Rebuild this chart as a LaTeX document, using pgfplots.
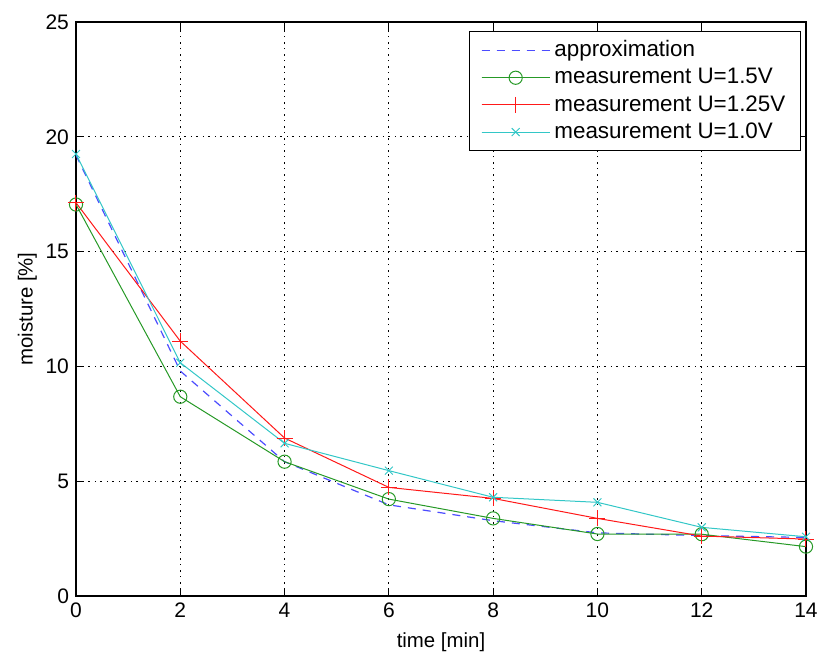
\documentclass[border=0pt]{standalone}
\usepackage{fontspec}
\setmainfont{Liberation Sans}
\usepackage{pgfplots}
\pgfplotsset{compat=1.18}
\definecolor{mgreen}{rgb}{0.15,0.6,0.15}
\definecolor{mred}{rgb}{1,0.1,0.1}
\definecolor{mcyan}{rgb}{0.2,0.78,0.78}
\definecolor{mblue}{rgb}{0.3,0.3,1}
\begin{document}
\begin{tikzpicture}
\begin{axis}[name=ax,
  scale only axis, width=365pt, height=287pt,
  xmin=0, xmax=14, ymin=0, ymax=25,
  xtick={0,2,...,14}, ytick={0,5,...,25},
  tick align=inside, tick pos=both,
  major tick length=4pt,
  /pgf/number format/assume math mode=true,
  ticklabel style={font=\fontsize{10.5}{12}\selectfont},
  label style={font=\fontsize{10.2}{12}\selectfont},
  xlabel={time [min]}, ylabel={moisture [\%]},
  xlabel style={yshift=-0.5pt}, ylabel style={yshift=-2.5pt},
  grid=major,
  major grid style={black, line width=0.5pt, dash pattern=on 1.2pt off 2.2pt on 0.4pt off 2.2pt},
  axis line style={black, line width=0.6pt},
  tick style={black, line width=0.5pt},
  legend style={at={(rel axis cs:0.993,0.984)}, anchor=north east,
    font=\fontsize{11.2}{13}\selectfont, draw=black, line width=0.5pt,
    row sep=0.3pt, inner ysep=2.5pt, inner xsep=5.5pt, cells={anchor=west}},
  legend image code/.code={\draw[#1] (0cm,0cm) -- (1.2cm,0cm); \draw[#1, mark repeat=2, mark phase=2] plot coordinates {(0cm,0cm) (0.6cm,0cm) (1.2cm,0cm)};},
]
\addplot[mblue, dashed, line width=0.6pt, dash pattern=on 4pt off 3.5pt] coordinates {
(0,19.2) (2,9.8) (4,5.85) (6,3.97) (8,3.28) (10,2.75) (12,2.63) (14,2.55)};
\addlegendentry{approximation}
\addplot[mgreen, line width=0.5pt, mark=o, mark size=3.3pt, mark options={solid}] coordinates {
(0,17.05) (2,8.68) (4,5.85) (6,4.22) (8,3.38) (10,2.70) (12,2.69) (14,2.15)};
\addlegendentry{measurement U=1.5V}
\addplot[mred, line width=0.5pt, mark=+, mark size=4pt, mark options={solid}] coordinates {
(0,17.13) (2,11.1) (4,6.88) (6,4.73) (8,4.25) (10,3.38) (12,2.61) (14,2.48)};
\addlegendentry{measurement U=1.25V}
\addplot[mcyan, line width=0.5pt, mark=x, mark size=2.8pt, mark options={solid}] coordinates {
(0,19.25) (2,10.16) (4,6.65) (6,5.46) (8,4.30) (10,4.08) (12,2.99) (14,2.58)};
\addlegendentry{measurement U=1.0V}
\end{axis}
\pgfresetboundingbox
\path[use as bounding box] (ax.south west) ++(-38pt,-29.5pt) rectangle ++(410.5pt,327.5pt);
\end{tikzpicture}
\end{document}
